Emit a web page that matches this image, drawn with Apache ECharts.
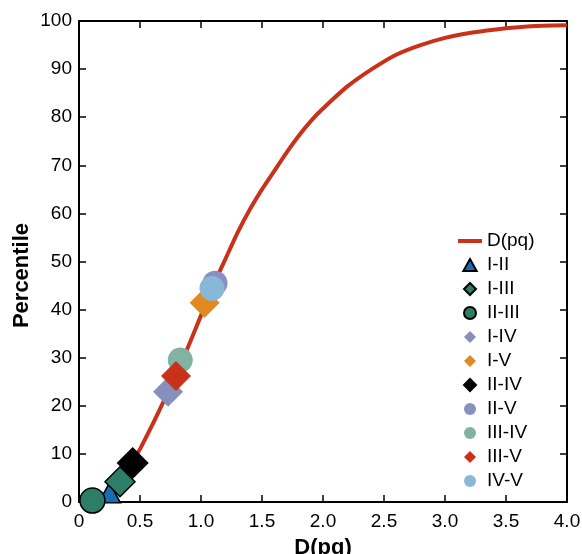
<!DOCTYPE html>
<html>
<head>
<meta charset="utf-8">
<script src="https://cdn.jsdelivr.net/npm/echarts@6/dist/echarts.min.js"></script>
<style>html,body{margin:0;padding:0;background:#fff;}#c{width:582px;height:554px;}</style>
</head>
<body>
<div id="c"></div>
<script>
// Curve D(pq): x values and cumulative percentile
var curveX = [0.10,0.15,0.20,0.25,0.30,0.35,0.40,0.45,0.50,0.60,0.70,0.80,0.90,1.00,1.10,1.20,1.30,1.40,1.50,1.60,1.70,1.80,1.90,2.00,2.20,2.40,2.60,2.80,3.00,3.20,3.40,3.60,3.80,4.00];
var curveY = [0,0.6,1.5,2.6,3.9,5.3,7.2,9.0,11.0,16.0,21.3,26.8,32.6,38.8,45.0,50.5,56.0,60.8,65.0,68.8,72.6,76.1,79.2,81.8,86.4,90.0,93.0,95.0,96.5,97.5,98.2,98.7,99.0,99.1];

// Pairwise points
var pairNames = ['I-II','I-III','II-III','I-IV','I-V','II-IV','II-V','III-IV','III-V','IV-V'];
var pairX =     [0.25, 0.336, 0.11, 0.73, 1.03, 0.44, 1.115, 0.83, 0.795, 1.09];
var pairY =     [1.9,  4.2,   0.3,  22.9, 41.4, 8.1,  45.5,  29.5, 26.2,  44.4];
var pairSymbol = ['triangle','diamond','circle','diamond','diamond','diamond','circle','circle','diamond','circle'];
var pairColor = ['#1a6cb0','#2e7d66','#2e7d66','#8790bb','#e08a1f','#000000','#8a8fc2','#80b3a2','#c8321b','#88b8d8'];
var pairBorder = [true,true,true,false,false,true,false,false,false,false];

var xTicks = [0,0.5,1.0,1.5,2.0,2.5,3.0,3.5,4.0];
var yTicks = [0,10,20,30,40,50,60,70,80,90,100];

var FONT = 'Liberation Sans, Arial, Helvetica, sans-serif';
var lineColor = '#c8321b';

var legendIcons = {
  triangle: 'path://M5,0 L10,9 L0,9 Z',
  diamond: 'path://M5,0 L10,5 L5,10 L0,5 Z',
  circle: 'circle'
};

var series = [{
  name: 'D(pq)',
  type: 'line',
  data: curveX.map(function(x,i){return [x, curveY[i]];}),
  showSymbol: false,
  symbol: 'none',
  smooth: 0.3,
  lineStyle: {color: lineColor, width: 4},
  itemStyle: {color: lineColor},
  z: 2
}];
var sizeMap = {triangle:[22,20], diamond:30, circle:25};
pairNames.forEach(function(n,i){
  series.push({
    name: n,
    type: 'scatter',
    data: [[pairX[i], pairY[i]]],
    symbol: pairSymbol[i],
    symbolSize: sizeMap[pairSymbol[i]],
    itemStyle: {color: pairColor[i], borderColor: pairBorder[i] ? '#000' : 'transparent', borderWidth: pairBorder[i] ? 1.5 : 0, opacity: 1},
    z: 3 + i
  });
});

var legendData = [{name: 'D(pq)', icon: 'path://M0,0 L24,0 L24,4 L0,4 Z', itemStyle: {color: lineColor}}];
pairNames.forEach(function(n,i){
  legendData.push({name: n, icon: legendIcons[pairSymbol[i]]});
});

function axisCommon() {
  return {
    axisLine: {show: true, onZero: false, lineStyle: {color: '#000', width: 2}},
    axisTick: {show: true, inside: true, length: 7, lineStyle: {color: '#000', width: 1.5}},
    splitLine: {show: false}
  };
}

var chart = echarts.init(document.getElementById('c'), null, {renderer: 'canvas'});
chart.setOption({
  animation: false,
  backgroundColor: '#fff',
  grid: {left: 79, right: 15, top: 21, bottom: 52, containLabel: false, outerBoundsMode: 'none'},
  legend: {
    orient: 'vertical',
    left: 453,
    top: 226,
    itemWidth: 24,
    itemHeight: 12,
    itemGap: 4,
    itemTextGap: 7,
    symbolKeepAspect: true,
    textStyle: {fontFamily: FONT, fontSize: 19, color: '#000', lineHeight: 20},
    data: legendData
  },
  xAxis: [Object.assign({
    type: 'value', min: 0, max: 4, interval: 0.5,
    name: 'D(pq)', nameLocation: 'middle', nameGap: 35,
    nameTextStyle: {fontFamily: FONT, fontSize: 22, fontWeight: 'bold', color: '#000'},
    axisLabel: {fontFamily: FONT, fontSize: 19, color: '#000', margin: 10,
      formatter: function(v){ return v === 0 ? '0' : v.toFixed(1); }}
  }, axisCommon()), Object.assign({
    type: 'value', min: 0, max: 4, interval: 0.5, position: 'top',
    axisLabel: {show: false}
  }, axisCommon())],
  yAxis: [Object.assign({
    type: 'value', min: 0, max: 100, interval: 10,
    name: 'Percentile', nameLocation: 'middle', nameGap: 46, nameRotate: 90,
    nameMoveOverlap: false,
    nameTextStyle: {fontFamily: FONT, fontSize: 22, fontWeight: 'bold', color: '#000', padding: [0, 28, 0, 0]},
    axisLabel: {fontFamily: FONT, fontSize: 19, color: '#000', margin: 7}
  }, axisCommon()), Object.assign({
    type: 'value', min: 0, max: 100, interval: 10, position: 'right',
    axisLabel: {show: false}
  }, axisCommon())],
  series: series
});
</script>
</body>
</html>
